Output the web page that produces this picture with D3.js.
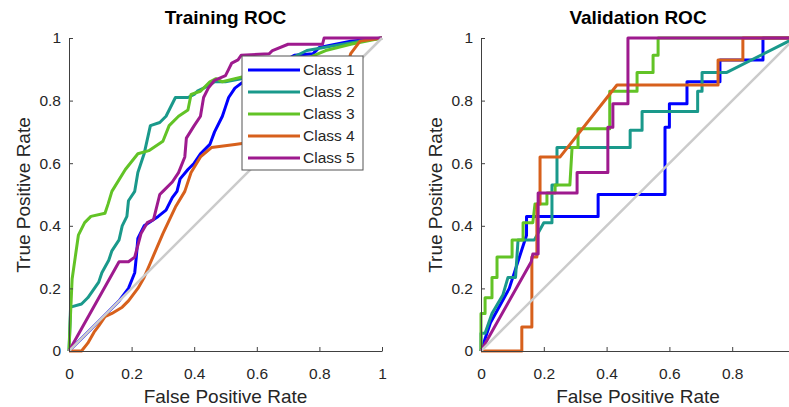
<!DOCTYPE html>
<html>
<head>
<meta charset="utf-8">
<script src="https://cdnjs.cloudflare.com/ajax/libs/d3/7.8.5/d3.min.js"></script>
<style>
body { margin: 0; background: #fff; }
text { font-family: "Liberation Sans", Arial, sans-serif; fill: #262626; }
</style>
</head>
<body>
<div id="roc"></div>
<script>
// class names + line colours
var classNames = ["Class 1", "Class 2", "Class 3", "Class 4", "Class 5"];
var classColors = ["#0000ff", "#1a998b", "#62c326", "#d7601c", "#9e1a8e"];
var tickValues = [0, 0.2, 0.4, 0.6, 0.8, 1];
var tickLabels = ["0", "0.2", "0.4", "0.6", "0.8", "1"];

// training ROC, [fpr, tpr]
var trainClass1 = [[0,0],[0.05,0.05],[0.1,0.1],[0.16,0.16],[0.19,0.2],[0.21,0.25],[0.215,0.3],[0.22,0.36],[0.24,0.4],[0.255,0.41],[0.285,0.43],[0.31,0.45],[0.33,0.49],[0.345,0.51],[0.355,0.55],[0.38,0.58],[0.4,0.6],[0.42,0.63],[0.45,0.66],[0.465,0.7],[0.49,0.75],[0.5,0.78],[0.51,0.81],[0.53,0.84],[0.55,0.855],[0.6,0.88],[0.66,0.91],[0.72,0.945],[0.78,0.95],[0.8,0.97],[0.9,0.99],[1,1]];
var trainClass2 = [[0,0],[0.005,0.14],[0.04,0.15],[0.06,0.17],[0.095,0.22],[0.105,0.25],[0.127,0.29],[0.137,0.32],[0.16,0.355],[0.17,0.4],[0.185,0.43],[0.19,0.48],[0.21,0.51],[0.22,0.57],[0.24,0.63],[0.26,0.72],[0.29,0.73],[0.31,0.75],[0.32,0.77],[0.34,0.81],[0.38,0.81],[0.4,0.82],[0.41,0.83],[0.43,0.84],[0.45,0.85],[0.465,0.86],[0.5,0.86],[0.55,0.87],[0.7,0.93],[0.76,0.96],[0.93,0.99],[1,1]];
var trainClass3 = [[0,0],[0.005,0.12],[0.01,0.23],[0.02,0.3],[0.03,0.37],[0.05,0.41],[0.07,0.43],[0.115,0.44],[0.125,0.47],[0.137,0.51],[0.18,0.58],[0.22,0.63],[0.255,0.64],[0.3,0.67],[0.32,0.72],[0.35,0.75],[0.38,0.77],[0.39,0.82],[0.42,0.83],[0.45,0.86],[0.47,0.87],[0.49,0.86],[0.55,0.875],[0.65,0.9],[0.75,0.93],[0.82,0.96],[0.9,0.98],[1,1]];
var trainClass4 = [[0,0],[0.04,0],[0.06,0.025],[0.08,0.06],[0.095,0.08],[0.115,0.11],[0.137,0.12],[0.17,0.14],[0.19,0.16],[0.22,0.2],[0.24,0.235],[0.255,0.27],[0.3,0.375],[0.34,0.46],[0.37,0.51],[0.39,0.57],[0.42,0.62],[0.455,0.65],[0.53,0.66],[0.6,0.67],[0.75,0.75],[0.88,0.88],[0.9,0.95],[0.93,0.99],[1,1]];
var trainClass5 = [[0,0],[0.16,0.285],[0.19,0.285],[0.21,0.3],[0.23,0.375],[0.25,0.41],[0.27,0.42],[0.29,0.5],[0.3,0.51],[0.33,0.54],[0.35,0.57],[0.37,0.62],[0.375,0.68],[0.4,0.72],[0.42,0.75],[0.43,0.81],[0.445,0.84],[0.465,0.865],[0.5,0.88],[0.51,0.9],[0.52,0.92],[0.54,0.93],[0.55,0.945],[0.64,0.95],[0.65,0.96],[0.7,0.98],[0.81,0.98],[0.815,1],[1,1]];

// validation ROC
var valClass1 = [[0,0],[0.03,0.09],[0.09,0.2],[0.145,0.37],[0.145,0.43],[0.373,0.43],[0.373,0.5],[0.586,0.5],[0.586,0.715],[0.6,0.715],[0.6,0.79],[0.656,0.79],[0.656,0.86],[0.761,0.86],[0.761,0.93],[0.898,0.93],[0.898,1],[1,1]];
var valClass2 = [[0,0],[0,0.057],[0.013,0.057],[0.035,0.12],[0.07,0.18],[0.086,0.235],[0.11,0.235],[0.118,0.355],[0.17,0.355],[0.2,0.41],[0.226,0.41],[0.226,0.53],[0.242,0.53],[0.242,0.65],[0.475,0.65],[0.475,0.705],[0.513,0.705],[0.513,0.765],[0.69,0.765],[0.69,0.83],[0.704,0.83],[0.704,0.89],[0.783,0.89],[1,1]];
var valClass3 = [[0,0],[0,0.12],[0.013,0.12],[0.013,0.17],[0.035,0.17],[0.035,0.235],[0.051,0.235],[0.051,0.3],[0.099,0.3],[0.099,0.355],[0.134,0.355],[0.134,0.41],[0.165,0.41],[0.172,0.47],[0.21,0.47],[0.21,0.505],[0.236,0.505],[0.236,0.53],[0.283,0.53],[0.29,0.65],[0.309,0.65],[0.309,0.71],[0.41,0.71],[0.41,0.83],[0.497,0.83],[0.497,0.89],[0.548,0.89],[0.548,0.945],[0.564,0.945],[0.564,1],[1,1]];
var valClass4 = [[0,0],[0.13,0],[0.13,0.077],[0.162,0.077],[0.162,0.3],[0.178,0.3],[0.178,0.47],[0.188,0.47],[0.188,0.62],[0.252,0.62],[0.433,0.85],[0.755,0.85],[0.755,0.93],[0.834,0.93],[0.834,1],[1,1]];
var valClass5 = [[0,0],[0.16,0.285],[0.165,0.31],[0.182,0.31],[0.182,0.505],[0.306,0.505],[0.306,0.57],[0.404,0.57],[0.404,0.715],[0.42,0.715],[0.42,0.79],[0.468,0.79],[0.468,1],[1,1]];

var width = 789,
	height = 407;

var svg = d3.select("#roc")
	.append("svg")
	.attr("width", width)
	.attr("height", height);

function rocPanel(title, curves, left, right, showLegend) {
	var x = d3.scaleLinear().domain([0, 1]).range([left, right]),
		y = d3.scaleLinear().domain([0, 1]).range([351, 38]);

	var g = svg.append("g");

	var line = d3.line()
		.x(function (d) { return x(d[0]); })
		.y(function (d) { return y(d[1]); });

	g.selectAll(".roc")
		.data(curves)
		.enter()
		.append("path")
		.attr("class", "roc")
		.attr("d", line)
		.attr("fill", "none")
		.attr("stroke", (d, i) => classColors[i])
		.attr("stroke-width", 3)
		.attr("stroke-linejoin", "round");

	// chance line goes on top, like in the figure
	g.append("path")
		.attr("d", line([[0, 0], [1, 1]]))
		.attr("stroke", "#cbcbcb")
		.attr("stroke-width", 2.5)
		.attr("fill", "none");

	// right panel runs off the page, its last x label is not visible
	var xLabels = showLegend ? tickLabels : tickLabels.slice(0, 5).concat([""]);

	var xAxis = d3.axisBottom(x)
		.tickValues(tickValues)
		.tickFormat((d, i) => xLabels[i])
		.tickSizeInner(-4)
		.tickSizeOuter(0)
		.tickPadding(17);

	var yAxis = d3.axisLeft(y)
		.tickValues(tickValues)
		.tickFormat((d, i) => tickLabels[i])
		.tickSizeInner(-4)
		.tickSizeOuter(0)
		.tickPadding(8);

	var gx = g.append("g")
		.attr("transform", "translate(0,351)")
		.call(xAxis);
	var gy = g.append("g")
		.attr("transform", "translate(" + left + ",0)")
		.call(yAxis);

	[gx, gy].forEach(function (a) {
		a.select(".domain").attr("stroke", "#404040");
		a.selectAll(".tick line").attr("stroke", "#404040");
		a.selectAll(".tick text")
			.style("font-family", '"Liberation Sans", Arial, sans-serif')
			.style("font-size", "15.5px")
			.attr("fill", "#262626");
	});

	g.append("text")
		.attr("x", (left + right) / 2)
		.attr("y", 24)
		.attr("text-anchor", "middle")
		.style("font-size", "19px")
		.style("font-weight", "bold")
		.style("fill", "#000")
		.text(title);

	g.append("text")
		.attr("x", (left + right) / 2)
		.attr("y", 403)
		.attr("text-anchor", "middle")
		.style("font-size", "19px")
		.text("False Positive Rate");

	g.append("text")
		.attr("transform", "translate(" + (left - 39) + ",195) rotate(-90)")
		.attr("text-anchor", "middle")
		.style("font-size", "19px")
		.text("True Positive Rate");

	if (showLegend) {
		var lg = g.append("g").attr("transform", "translate(242,56)");
		lg.append("rect")
			.attr("width", 121)
			.attr("height", 114)
			.attr("fill", "#fff")
			.attr("stroke", "#555")
			.attr("stroke-width", 1);

		var item = lg.selectAll(".item")
			.data(classNames)
			.enter()
			.append("g")
			.attr("class", "item")
			.attr("transform", (d, i) => "translate(0," + (14 + i * 22) + ")");

		item.append("line")
			.attr("x1", 6)
			.attr("x2", 58)
			.attr("stroke", (d, i) => classColors[i])
			.attr("stroke-width", 3);

		item.append("text")
			.attr("x", 61)
			.attr("dy", "0.35em")
			.style("font-size", "15.5px")
			.text(d => d);
	}
}

rocPanel("Training ROC", [trainClass1, trainClass2, trainClass3, trainClass4, trainClass5], 69, 382, true);
rocPanel("Validation ROC", [valClass1, valClass2, valClass3, valClass4, valClass5], 481, 795, false);
</script>
</body>
</html>
